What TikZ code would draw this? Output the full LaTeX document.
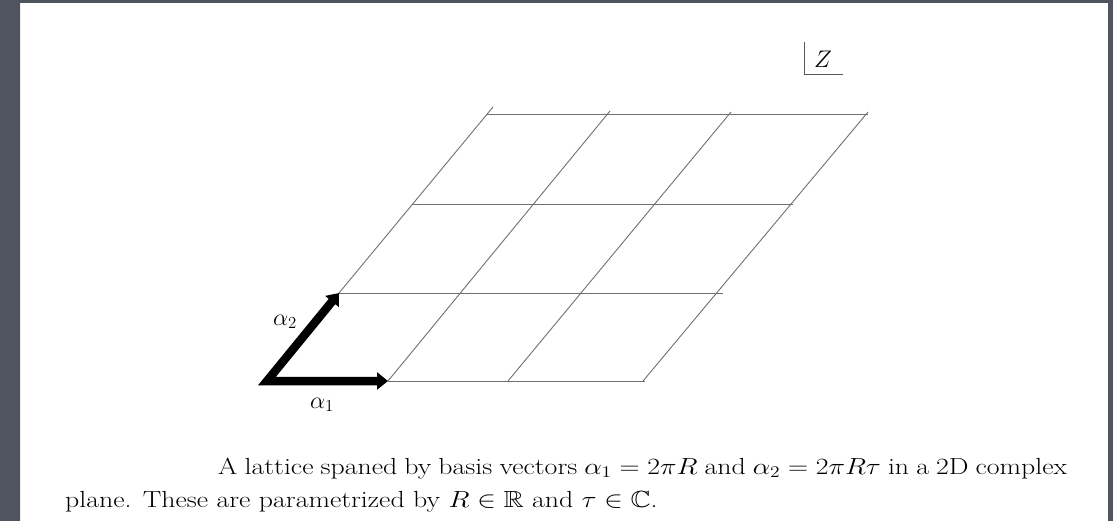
\documentclass[tikz,border=0pt]{standalone}
\usepackage{fix-cm}
\usepackage{amssymb}
\usepackage{fontspec}
\usetikzlibrary{arrows.meta}
\definecolor{bordergray}{HTML}{50545F}
\definecolor{gridgray}{HTML}{707070}
\tikzset{
  gridline/.style={draw=gridgray, line width=0.9pt},
  basisvec/.style={line width=8.5pt, line join=miter,
    {Triangle[length=11pt,width=17pt]}-{Triangle[length=11pt,width=17pt]}},
  veclabel/.style={inner sep=0pt, font=\fontsize{24}{28}\selectfont},
  captext/.style={inner sep=0pt, anchor=base west, xscale=1.194, transform shape,
    font=\fontsize{23.3}{28}\selectfont},
  boxmark/.style={draw=black!65, line width=0.8pt}
}
\begin{document}
\begin{tikzpicture}[x=1pt,y=-1pt]
\useasboundingbox (0,0) rectangle (1113,521);
% page background and border
\fill[white] (0,0) rectangle (1113,521);
\fill[bordergray] (0,0) rectangle (20,521);
\fill[bordergray] (0,0) rectangle (1113,3);
\fill[bordergray] (1108,0) rectangle (1113,521);
\draw[white!85!gray, line width=0.8pt] (20.5,3) -- (20.5,521);
% lattice points
\coordinate (O) at (267,381);
\coordinate (A1) at (388,381);
\coordinate (A2) at (339,293);
% horizontal lattice lines
\draw[gridline] (A1) -- (645,381);
\draw[gridline] (A2) -- (723,293);
\draw[gridline] (412,204) -- (793,204);
\draw[gridline] (487,114) -- (868,114);
% slanted lattice lines
\draw[gridline] (A2) -- (493,107);
\draw[gridline] (A1) -- (610,111);
\draw[gridline] (508,381) -- (731,112);
\draw[gridline] (643,381) -- (868,112);
% basis vectors
\draw[basisvec] (A2) -- (O) -- (A1);
\node[veclabel] (l2) at (285,322) {$\alpha_2$};
\node[veclabel] (l1) at (322,405) {$\alpha_1$};
% Z label with corner mark
\draw[boxmark] (804,42) -- (804,74) -- (843,74);
\node[veclabel] (z) at (823,59) {$Z$};
% caption
\node[captext] (cap1) at (218,474) {\hbox to 711pt{A lattice spaned by basis vectors $\alpha_1 = 2\pi R$ and $\alpha_2 = 2\pi R\tau$ in a 2D complex}};
\node[captext] (cap2) at (65,507) {plane. These are parametrized by $R \in \mathbb{R}$ and $\tau \in \mathbb{C}$.};
\end{tikzpicture}
\end{document}
